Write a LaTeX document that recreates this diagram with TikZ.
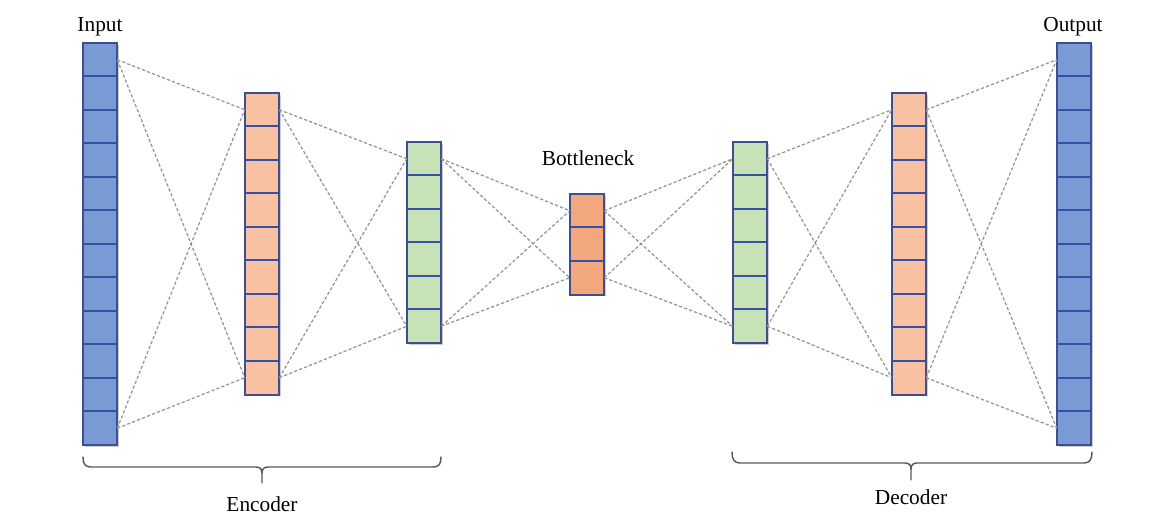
\documentclass[tikz,border=0pt]{standalone}
\usepackage{fontspec}
\setmainfont{Liberation Serif}
\usetikzlibrary{shadows}

\definecolor{inblue}{HTML}{7A9AD6}
\definecolor{peach}{HTML}{F8C2A2}
\definecolor{bneck}{HTML}{F3A77D}
\definecolor{mint}{HTML}{C6E2B6}
\definecolor{rimcol}{HTML}{3F4E8E}
\definecolor{divcol}{HTML}{3352A6}
\definecolor{linkcol}{HTML}{929292}
\definecolor{bracecol}{HTML}{5A5A5A}

\tikzset{
  colbox/.style={rectangle, inner sep=0pt, minimum width=25.5pt, fill=white,
    drop shadow={shadow xshift=1.4pt, shadow yshift=-1.4pt, opacity=0.35, fill=black!55}},
  cell/.style={rectangle, inner sep=0pt, minimum width=25.5pt, minimum height=25.125pt},
  divider/.style={draw=divcol, line width=1.2pt},
  rim/.style={draw=rimcol, line width=1.5pt},
  link/.style={draw=linkcol, line width=0.9pt, dash pattern=on 2.4pt off 1.6pt},
  bracket/.style={draw=bracecol, line width=1.1pt, line cap=round},
  caption/.style={font=\fontsize{16}{18}\selectfont, anchor=base, inner sep=0pt}
}

% one layer: name, x centre, y top, number of cells, fill colour
\newcommand\layercol[5]{%
  \node[colbox, minimum height=#4*25.125pt] (#1) at (#2, {#3 + #4*33.5/2}) {};
  \foreach \i in {1,...,#4}
    \node[cell, fill=#5] (#1\i) at (#2, {#3 + (\i-0.5)*33.5}) {};
  \foreach \i in {2,...,#4}
    \draw[divider] (#1\i.north west) -- (#1\i.north east);
  \draw[rim] (#1.north west) rectangle (#1.south east);
}

% dense links between the outer cells of two neighbouring layers
\newcommand\linklayers[4]{% left name, left count, right name, right count
  \draw[link] (#11.east) -- (#31.west);
  \draw[link] (#11.east) -- (#3#4.west);
  \draw[link] (#1#2.east) -- (#31.west);
  \draw[link] (#1#2.east) -- (#3#4.west);
}

\begin{document}
\begin{tikzpicture}[x=0.75pt, y=-0.75pt]
  \fill[white] (0,0) rectangle (1164,517);
  \useasboundingbox (0,0) rectangle (1164,517);

  % layers
  \layercol{in}{100}{43}{12}{inblue}
  \layercol{enc}{262}{93}{9}{peach}
  \layercol{egr}{424}{142}{6}{mint}
  \layercol{bn}{587}{194}{3}{bneck}
  \layercol{dgr}{750}{142}{6}{mint}
  \layercol{dec}{909}{93}{9}{peach}
  \layercol{out}{1074}{43}{12}{inblue}

  % connections
  \linklayers{in}{12}{enc}{9}
  \linklayers{enc}{9}{egr}{6}
  \linklayers{egr}{6}{bn}{3}
  \linklayers{bn}{3}{dgr}{6}
  \linklayers{dgr}{6}{dec}{9}
  \linklayers{dec}{9}{out}{12}

  % captions
  \node[caption] (lin) at (100,32) {Input};
  \node[caption] (lout) at (1073,32) {Output};
  \node[caption] (lbn) at (588,166) {Bottleneck};
  \node[caption] (lenc) at (262,511) {Encoder};
  \node[caption] (ldec) at (911,504) {Decoder};

  % encoder bracket
  \draw[bracket] (83,457) .. controls (83,464) and (85,467) .. (91,467) -- (256,467)
    .. controls (260,467) and (262,469) .. (262,473) -- (262,483);
  \draw[bracket] (441,457) .. controls (441,464) and (439,467) .. (433,467) -- (268,467)
    .. controls (264,467) and (262,469) .. (262,473);

  % decoder bracket
  \draw[bracket] (732,452) .. controls (732,459) and (734,463) .. (740,463) -- (905,463)
    .. controls (909,463) and (911,465) .. (911,469) -- (911,480);
  \draw[bracket] (1092,452) .. controls (1092,459) and (1090,463) .. (1084,463) -- (917,463)
    .. controls (913,463) and (911,465) .. (911,469);
\end{tikzpicture}
\end{document}
